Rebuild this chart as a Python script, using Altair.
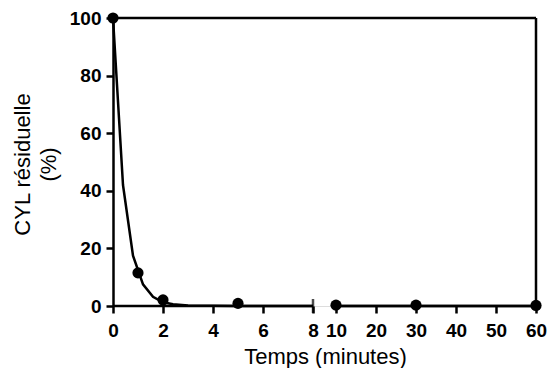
import altair as alt
import pandas as pd

# measured points
time_pts = [0, 1, 2, 5, 10, 30, 60]
resid_pts = [100, 11.5, 2.1, 0.9, 0.3, 0.3, 0.2]

# fitted curve (two segments around the axis break)
curve_t = [0, 0.4, 0.8, 1.2, 1.6, 2.0, 2.4, 3.0, 4.0, 5.0, 6.0, 7.0, 8.0,
           10, 20, 30, 40, 50, 60]
curve_y = [100, 42, 17.5, 7.5, 3.2, 1.3, 0.6, 0.2, 0.05, 0, 0, 0, 0,
           0, 0, 0, 0, 0, 0]
curve_seg = ["a"] * 13 + ["b"] * 6

x_ticks = [0, 2, 4, 6, 8, 10, 20, 30, 40, 50, 60]
y_ticks = [0, 20, 40, 60, 80, 100]

# broken x axis: 0-8 and 10-60
x_break_domain = [0, 8, 10, 60]
x_break_range = [0, 200, 223, 423]
seg_start = [0, 10]
seg_end = [8, 60]

FONT = "Liberation Sans"

pts = pd.DataFrame({"t": time_pts, "r": resid_pts})
curve = pd.DataFrame({"t": curve_t, "r": curve_y, "seg": curve_seg})
segs = pd.DataFrame({"t": seg_start, "t2": seg_end, "r": [0, 0]})
top_border = pd.DataFrame({"t": [0], "t2": [60], "r": [100]})
right_border = pd.DataFrame({"t": [60], "r": [0], "r2": [100]})
cap = pd.DataFrame({"t": [8], "r": [0]})

xscale = alt.Scale(domain=x_break_domain, range=x_break_range, nice=False, zero=False)
yscale = alt.Scale(domain=[0, 100], nice=False, zero=False)

x_axis = alt.Axis(
    values=x_ticks, domain=False, grid=False, tickSize=7, tickWidth=2.5, tickColor="black",
    labelFont=FONT, labelFontSize=19, labelFontWeight="bold", labelColor="black",
    labelPadding=8, labelOverlap=False, labelBound=False, labelFlush=False,
    title="Temps (minutes)", titleFont=FONT, titleFontSize=22, titleFontWeight="normal",
    titleColor="black", titleBaseline="alphabetic", titleY=57, titleX=212, titleAlign="center",
)
y_axis = alt.Axis(
    values=y_ticks, domain=True, domainWidth=2.5, domainColor="black", grid=False,
    tickSize=7, tickWidth=2.5, tickColor="black",
    labelFont=FONT, labelFontSize=19, labelFontWeight="bold", labelColor="black",
    labelPadding=5, labelOverlap=False, labelFlush=False,
    title=["CYL résiduelle", "(%)"], titleFont=FONT, titleFontSize=22,
    titleFontWeight="normal", titleColor="black", titleLineHeight=26,
    titleAngle=270, titleBaseline="alphabetic", titleAlign="center",
    titleX=-84, titleY=146,
)

X = alt.X("t:Q", scale=xscale, axis=x_axis)
Y = alt.Y("r:Q", scale=yscale, axis=y_axis)

seg_layer = alt.Chart(segs).mark_rule(color="black", strokeWidth=2.5).encode(
    x=X, x2="t2:Q", y=Y,
)
top_layer = alt.Chart(top_border).mark_rule(color="black", strokeWidth=2.5).encode(
    x=X, x2="t2:Q", y=Y,
)
right_layer = alt.Chart(right_border).mark_rule(color="black", strokeWidth=2.5).encode(
    x=X, y=Y, y2="r2:Q",
)
cap_layer = alt.Chart(cap).mark_tick(color="black", orient="vertical", size=14, thickness=2.5).encode(
    x=X, y=Y,
)
line_layer = alt.Chart(curve).mark_line(color="black", strokeWidth=2.5).encode(
    x=X, y=Y, detail="seg:N",
)
dot_layer = alt.Chart(pts).mark_circle(color="black", opacity=1, size=125).encode(
    x=X, y=Y,
)

chart = alt.layer(
    seg_layer, top_layer, right_layer, cap_layer, line_layer, dot_layer
).properties(
    width=423, height=288,
    autosize=alt.AutoSizeParams(type="none"),
    padding={"left": 105, "top": 10, "right": 11, "bottom": 62},
).configure_view(stroke=None).configure(background="white")

chart.save("out.html", embed_options={"renderer": "svg", "actions": False})
